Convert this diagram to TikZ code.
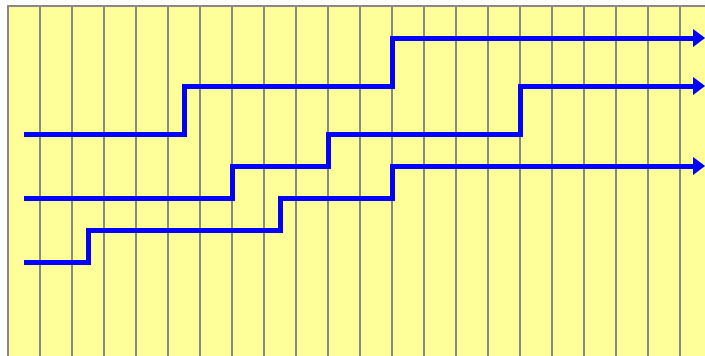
\documentclass[tikz,border=0pt]{standalone}
\definecolor{bgyellow}{RGB}{255,255,153}
\definecolor{gridgray}{RGB}{136,136,136}
\definecolor{flowblue}{RGB}{0,0,255}
\begin{document}
\begin{tikzpicture}[x=1pt,y=-1pt,
  gridline/.style={draw=gridgray,line width=1.5pt},
  flow/.style={draw=flowblue,line width=5pt,line join=miter},
  headtip/.style={fill=flowblue}]
\useasboundingbox (0,0) rectangle (705,356);
\fill[white] (0,0) rectangle (705,356);
\fill[bgyellow] (8,6) rectangle (705,356);
\foreach \i in {0,...,21} {
  \draw[gridline] (8+32*\i,6) -- (8+32*\i,356);
}
\draw[gridline] (7.25,6) -- (705,6);
% end coordinates
\coordinate (endA) at (705,38);
\coordinate (endB) at (705,86);
\coordinate (endC) at (705,166);
% line A
\draw[flow] (24,134) -- (184,134) -- (184,86) -- (392,86) -- (392,38) -- ([xshift=-10pt]endA);
% line B
\draw[flow] (24,198) -- (232,198) -- (232,166) -- (328,166) -- (328,134) -- (520,134) -- (520,86) -- ([xshift=-10pt]endB);
% line C
\draw[flow] (24,262) -- (88,262) -- (88,230) -- (280,230) -- (280,198) -- (392,198) -- (392,166) -- ([xshift=-10pt]endC);
% arrowheads
\foreach \e in {endA,endB,endC} {
  \fill[headtip] (\e) -- ++(-12,-9) -- ++(0,18) -- cycle;
}
\end{tikzpicture}
\end{document}
